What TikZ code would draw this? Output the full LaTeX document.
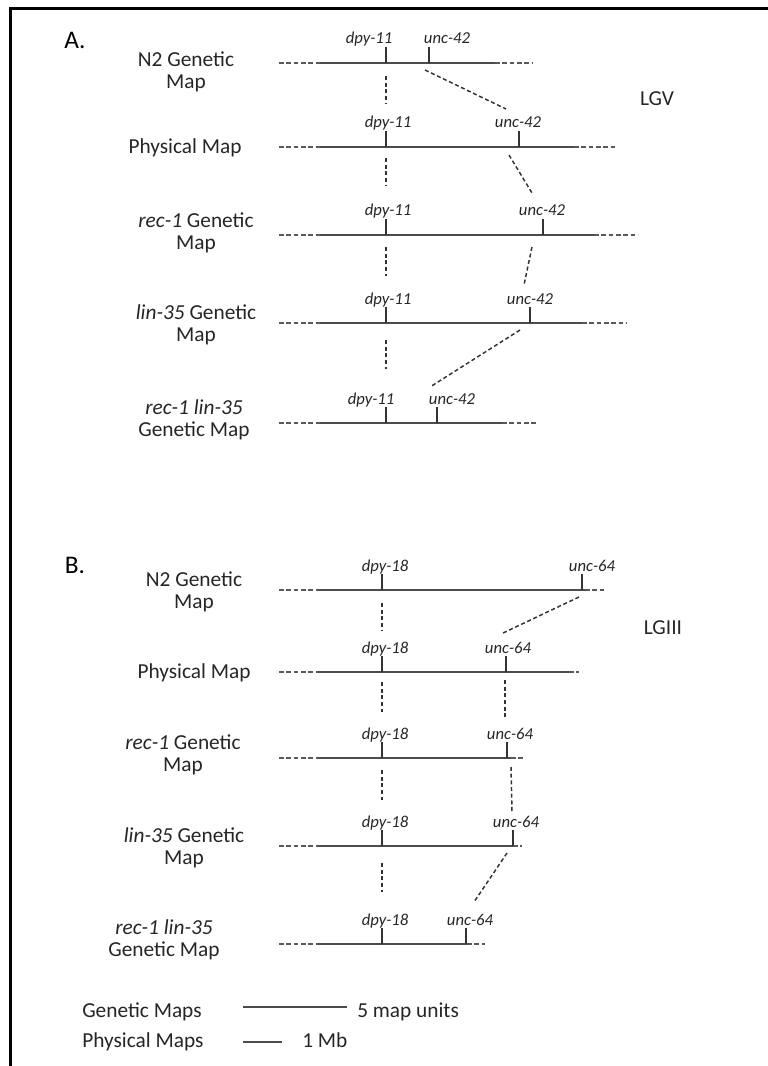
\documentclass[tikz,border=0pt]{standalone}
\usepackage{fontspec}
\setmainfont{Carlito}
\usetikzlibrary{positioning}
\tikzset{
  maplabel/.style={align=center,inner sep=0pt,font=\fontsize{16}{16.5}\selectfont,text=black!85},
  gene/.style={anchor=base,inner sep=0pt,font=\fontsize{12.5}{13}\selectfont\itshape,text=black!85},
  panel/.style={inner sep=0pt,font=\fontsize{19}{20}\selectfont,text=black},
  mapline/.style={line width=1.6pt,black!70},
  mapdash/.style={line width=1.2pt,black!65,dash pattern=on 3.5pt off 2pt},
  tick/.style={line width=1.1pt,black!80},
  link/.style={line width=1.1pt,black!80,dash pattern=on 3pt off 2pt},
}
\begin{document}
\begin{tikzpicture}[x=0.75pt,y=-0.75pt]
\useasboundingbox (0,0) rectangle (767,1066);
\fill[white] (0,0) rectangle (767,1066);
\draw[line width=2.2pt] (10.5,1070) -- (10.5,8.5) -- (770,8.5);

% A
\node[panel] (pA) at (75,40) {A.};
\node[maplabel] (lgv) at (657,99) {LGV};

\node[maplabel] (aNlab) at (186,72) {N2 Genetic\\Map};
\draw[mapdash] (279,63) -- (320,63) (495,63) -- (533,63);
\draw[mapline] (320,63) -- (495,63);
\coordinate (aNdpy) at (386,63);
\coordinate (aNunc) at (429,63);
\draw[tick] (aNdpy) -- ++(0,-16);
\draw[tick] (aNunc) -- ++(0,-16);
\node[gene] (aNdpyl) at (369,44) {dpy-11};
\node[gene] (aNuncl) at (447,44) {unc-42};

\node[maplabel] (aPlab) at (185,148) {Physical Map};
\draw[mapdash] (279,147) -- (320,147) (574,147) -- (616,147);
\draw[mapline] (320,147) -- (574,147);
\coordinate (aPdpy) at (386,147);
\coordinate (aPunc) at (519,147);
\draw[tick] (aPdpy) -- ++(0,-16);
\draw[tick] (aPunc) -- ++(0,-16);
\node[gene] (aPdpyl) at (388,128) {dpy-11};
\node[gene] (aPuncl) at (518,128) {unc-42};

\node[maplabel] (aRlab) at (196,233) {\textit{rec-1} Genetic\\Map};
\draw[mapdash] (279,235) -- (320,235) (594,235) -- (638,235);
\draw[mapline] (320,235) -- (594,235);
\coordinate (aRdpy) at (386,235);
\coordinate (aRunc) at (543,235);
\draw[tick] (aRdpy) -- ++(0,-16);
\draw[tick] (aRunc) -- ++(0,-16);
\node[gene] (aRdpyl) at (388,216) {dpy-11};
\node[gene] (aRuncl) at (542,216) {unc-42};

\node[maplabel] (aLlab) at (196,325) {\textit{lin-35} Genetic\\Map};
\draw[mapdash] (279,323) -- (320,323) (582,323) -- (627,323);
\draw[mapline] (320,323) -- (582,323);
\coordinate (aLdpy) at (386,323);
\coordinate (aLunc) at (530,323);
\draw[tick] (aLdpy) -- ++(0,-16);
\draw[tick] (aLunc) -- ++(0,-16);
\node[gene] (aLdpyl) at (388,304) {dpy-11};
\node[gene] (aLuncl) at (530,304) {unc-42};

\node[maplabel] (aRLlab) at (194,420) {\textit{rec-1 lin-35}\\Genetic Map};
\draw[mapdash] (279,423) -- (320,423) (502,423) -- (538,423);
\draw[mapline] (320,423) -- (502,423);
\coordinate (aRLdpy) at (386,423);
\coordinate (aRLunc) at (437,423);
\draw[tick] (aRLdpy) -- ++(0,-16);
\draw[tick] (aRLunc) -- ++(0,-16);
\node[gene] (aRLdpyl) at (371,404) {dpy-11};
\node[gene] (aRLuncl) at (452,404) {unc-42};

\coordinate (ad1) at (386,76);  \coordinate (ad2) at (386,104);
\coordinate (ad3) at (386,158); \coordinate (ad4) at (386,186);
\coordinate (ad5) at (386,247); \coordinate (ad6) at (386,276);
\coordinate (ad7) at (386,340); \coordinate (ad8) at (386,369);
\draw[link] (ad1) -- (ad2);
\draw[link] (ad3) -- (ad4);
\draw[link] (ad5) -- (ad6);
\draw[link] (ad7) -- (ad8);
\coordinate (au1) at (425,70);  \coordinate (au2) at (506,109);
\coordinate (au3) at (509,155); \coordinate (au4) at (532,193);
\coordinate (au5) at (532,247); \coordinate (au6) at (524,285);
\coordinate (au7) at (520,330); \coordinate (au8) at (430,387);
\draw[link] (au1) -- (au2);
\draw[link] (au3) -- (au4);
\draw[link] (au5) -- (au6);
\draw[link] (au7) -- (au8);

% B
\node[panel] (pB) at (75,565) {B.};
\node[maplabel] (lgiii) at (663,628) {LGIII};

\node[maplabel] (bNlab) at (194,592) {N2 Genetic\\Map};
\draw[mapdash] (279,590) -- (319,590) (585,590) -- (606,590);
\draw[mapline] (319,590) -- (585,590);
\coordinate (bNdpy) at (382,590);
\coordinate (bNunc) at (582,590);
\draw[tick] (bNdpy) -- ++(0,-16);
\draw[tick] (bNunc) -- ++(0,-16);
\node[gene] (bNdpyl) at (385,571) {dpy-18};
\node[gene] (bNuncl) at (592,571) {unc-64};

\node[maplabel] (bPlab) at (194,673) {Physical Map};
\draw[mapdash] (279,672) -- (319,672) (569,672) -- (579,672);
\draw[mapline] (319,672) -- (569,672);
\coordinate (bPdpy) at (382,672);
\coordinate (bPunc) at (506,672);
\draw[tick] (bPdpy) -- ++(0,-16);
\draw[tick] (bPunc) -- ++(0,-16);
\node[gene] (bPdpyl) at (385,653) {dpy-18};
\node[gene] (bPuncl) at (508,653) {unc-64};

\node[maplabel] (bRlab) at (183,755) {\textit{rec-1} Genetic\\Map};
\draw[mapdash] (279,758) -- (319,758) (511,758) -- (525,758);
\draw[mapline] (319,758) -- (511,758);
\coordinate (bRdpy) at (382,758);
\coordinate (bRunc) at (507,758);
\draw[tick] (bRdpy) -- ++(0,-16);
\draw[tick] (bRunc) -- ++(0,-16);
\node[gene] (bRdpyl) at (385,739) {dpy-18};
\node[gene] (bRuncl) at (510,739) {unc-64};

\node[maplabel] (bLlab) at (184,848) {\textit{lin-35} Genetic\\Map};
\draw[mapdash] (279,846) -- (319,846) (513,846) -- (522,846);
\draw[mapline] (319,846) -- (513,846);
\coordinate (bLdpy) at (382,846);
\coordinate (bLunc) at (513,846);
\draw[tick] (bLdpy) -- ++(0,-16);
\draw[tick] (bLunc) -- ++(0,-16);
\node[gene] (bLdpyl) at (385,827) {dpy-18};
\node[gene] (bLuncl) at (516,827) {unc-64};

\node[maplabel] (bRLlab) at (164,940) {\textit{rec-1 lin-35}\\Genetic Map};
\draw[mapdash] (279,944) -- (319,944) (467,944) -- (485,944);
\draw[mapline] (319,944) -- (467,944);
\coordinate (bRLdpy) at (382,944);
\coordinate (bRLunc) at (466,944);
\draw[tick] (bRLdpy) -- ++(0,-16);
\draw[tick] (bRLunc) -- ++(0,-16);
\node[gene] (bRLdpyl) at (385,925) {dpy-18};
\node[gene] (bRLuncl) at (470,925) {unc-64};

\coordinate (bd1) at (382,603); \coordinate (bd2) at (382,631);
\coordinate (bd3) at (382,682); \coordinate (bd4) at (382,712);
\coordinate (bd5) at (382,770); \coordinate (bd6) at (382,800);
\coordinate (bd7) at (382,863); \coordinate (bd8) at (382,892);
\draw[link] (bd1) -- (bd2);
\draw[link] (bd3) -- (bd4);
\draw[link] (bd5) -- (bd6);
\draw[link] (bd7) -- (bd8);
\coordinate (bu1) at (579,597); \coordinate (bu2) at (503,633);
\coordinate (bu3) at (505,680); \coordinate (bu4) at (505,717);
\coordinate (bu5) at (511,767); \coordinate (bu6) at (512,812);
\coordinate (bu7) at (507,853); \coordinate (bu8) at (474,902);
\draw[link] (bu1) -- (bu2);
\draw[link] (bu3) -- (bu4);
\draw[link] (bu5) -- (bu6);
\draw[link] (bu7) -- (bu8);

% scale
\node[maplabel,anchor=base west] (gmaps) at (82,1017) {Genetic Maps};
\node[maplabel,anchor=base west] (pmaps) at (82,1047) {Physical Maps};
\coordinate (gs1) at (243,1007); \coordinate (gs2) at (347,1007);
\coordinate (ps1) at (243,1042); \coordinate (ps2) at (282,1042);
\draw[mapline] (gs1) -- (gs2);
\draw[mapline] (ps1) -- (ps2);
\node[maplabel,anchor=base west] (gunit) at (357,1017) {5 map units};
\node[maplabel,anchor=base west] (punit) at (302,1047) {1 Mb};
\end{tikzpicture}
\end{document}
